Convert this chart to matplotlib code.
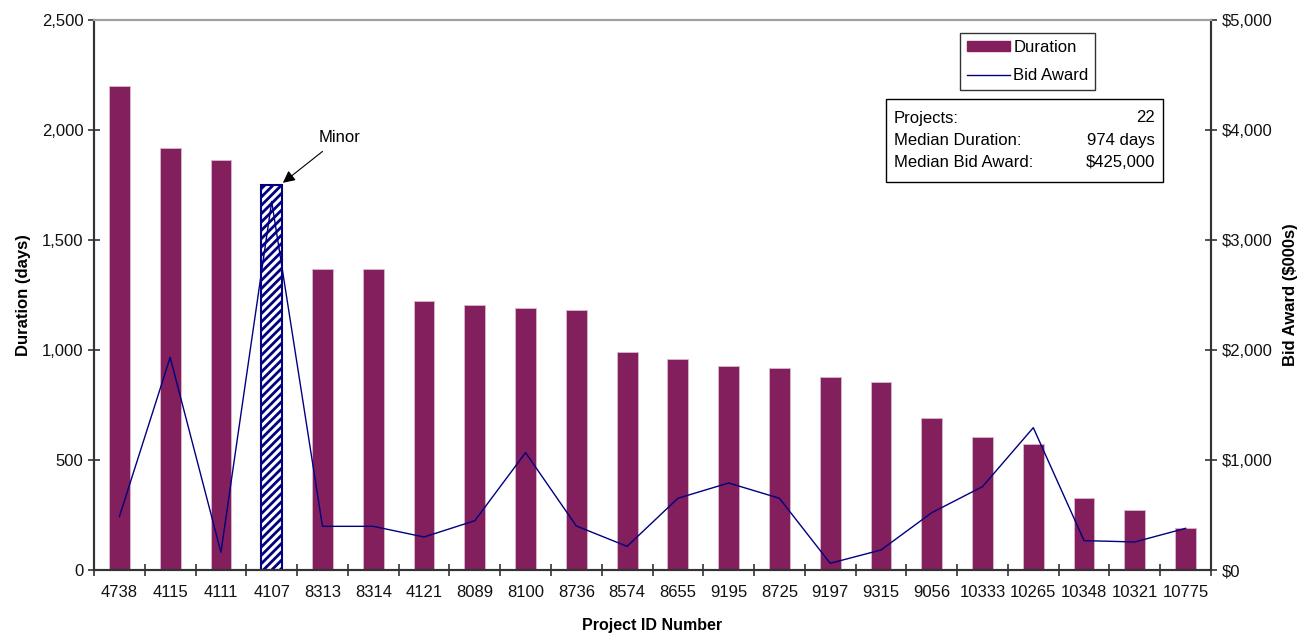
import matplotlib.pyplot as plt
from matplotlib.patches import Rectangle, Patch
from matplotlib.lines import Line2D
from matplotlib.ticker import FuncFormatter

plt.rcParams['font.family'] = ['Liberation Sans', 'DejaVu Sans']
plt.rcParams['hatch.color'] = '#000080'
plt.rcParams['hatch.linewidth'] = 2.0

projects = ['4738', '4115', '4111', '4107', '8313', '8314', '4121', '8089', '8100', '8736', '8574',
            '8655', '9195', '8725', '9197', '9315', '9056', '10333', '10265', '10348', '10321', '10775']
duration = [2200, 1920, 1864, 1750, 1368, 1368, 1223, 1205, 1191, 1182, 992,
            957, 926, 920, 877, 855, 692, 603, 573, 326, 273, 190]
bid_award = [485, 1933, 161, 3350, 397, 397, 300, 448, 1067, 400, 215,
             652, 791, 652, 61, 182, 521, 758, 1294, 267, 255, 379]
minor_project = '4107'

bar_clr = '#821F5C'
line_clr = '#000080'
fs = 12

fig = plt.figure(figsize=(13.14, 6.35), dpi=100)
ax = fig.add_axes([94/1314, 1-570/635, (1211-94)/1314, 550/635])
ax2 = ax.twinx()

x = range(len(projects))
bars = ax.bar(x, duration, width=0.41, color=bar_clr, edgecolor='#d8b8cc', linewidth=0.6, zorder=2)
mi = projects.index(minor_project)
bars[mi].set_facecolor('white')
bars[mi].set_edgecolor(line_clr)
bars[mi].set_hatch('////')
bars[mi].set_linewidth(1.5)

ax2.plot(x, bid_award, color=line_clr, lw=1.0)

ax.set_xlim(-0.5, len(projects) - 0.5)
ax.set_ylim(0, 2500)
ax2.set_ylim(0, 5000)
ax.set_yticks(range(0, 2501, 500))
ax2.set_yticks(range(0, 5001, 1000))
ax.yaxis.set_major_formatter(FuncFormatter(lambda v, p: f'{int(v):,}'))
ax2.yaxis.set_major_formatter(FuncFormatter(lambda v, p: f'${int(v):,}'))

ax.set_xticks(list(x))
ax.set_xticklabels(projects)
ax.set_xticks([i - 0.5 for i in range(len(projects) + 1)], minor=True)
ax.tick_params(axis='x', which='major', length=0, pad=11, labelsize=fs, colors='#111111')
ax.tick_params(axis='x', which='minor', direction='inout', length=8, width=1.2, color='#333333')
ax.tick_params(axis='y', direction='inout', length=8, width=1.2, color='#333333', labelsize=fs, labelcolor='#111111')
ax2.tick_params(axis='y', direction='inout', length=8, width=1.2, color='#333333', labelsize=fs, labelcolor='#111111')

for a in (ax, ax2):
    a.spines['top'].set_color('#a0a0a0')
    a.spines['top'].set_linewidth(1.5)
    for s in ('left', 'right', 'bottom'):
        a.spines[s].set_color('#333333')
        a.spines[s].set_linewidth(1.5)

ax.set_ylabel('Duration (days)', fontweight='bold', fontsize=fs, labelpad=8)
ax2.set_ylabel('Bid Award ($000s)', fontweight='bold', fontsize=fs, labelpad=8)
ax.set_xlabel('Project ID Number', fontweight='bold', fontsize=11.5, labelpad=13)

ax.annotate('Minor', xy=(mi + 0.22, duration[mi] + 10), xytext=(mi + 0.93, 1965),
            fontsize=fs, ha='left', va='center',
            arrowprops=dict(arrowstyle='-|>', color='black', lw=0.8, mutation_scale=18,
                            shrinkA=4, shrinkB=0))

handles = [Patch(facecolor=bar_clr, edgecolor=bar_clr), Line2D([0], [0], color=line_clr, lw=1.0)]
ax.legend(handles, ['Duration', 'Bid Award'], loc='upper left',
          bbox_to_anchor=((960-94)/1117, 1-(33-20)/550), fontsize=fs, frameon=True,
          fancybox=False, edgecolor='black', handlelength=2.6, handleheight=0.55,
          borderpad=0.4, labelspacing=0.8, handletextpad=0.2, borderaxespad=0)

box = Rectangle((886/1314, 1-182/635), (1163-886)/1314, (182-99)/635, transform=fig.transFigure,
                facecolor='white', edgecolor='black', lw=1.0, zorder=5)
fig.add_artist(box)
stats_labels = ['Projects:', 'Median Duration:', 'Median Bid Award:']
stats_values = ['22', '974 days', '$425,000']
for k, (lab, val) in enumerate(zip(stats_labels, stats_values)):
    yy = 1 - (118 + 22*k)/635
    fig.text(894/1314, yy, lab, fontsize=fs, va='center', ha='left', zorder=6)
    fig.text(1155/1314, yy, val, fontsize=fs, va='center', ha='right', zorder=6)

fig.savefig('out.png', dpi=100)
